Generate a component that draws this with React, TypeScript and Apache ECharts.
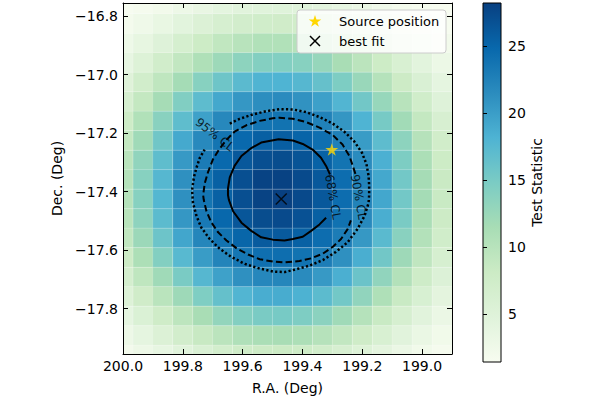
import React, { useEffect, useRef } from "react";
import * as echarts from "echarts";

// GnBu colour ramp used for the Test Statistic map
const GNBU = ["#f7fcf0", "#e0f3db", "#ccebc5", "#a8ddb5", "#7bccc4", "#4eb3d3", "#2b8cbe", "#0868ac", "#084081"];

// Pixel centres of the TS map (degrees)
const raCenters = [200.0, 199.933, 199.867, 199.8, 199.733, 199.667, 199.6, 199.533, 199.467, 199.4, 199.333, 199.267, 199.2, 199.133, 199.067, 199.0, 198.933];
const decCenters = [-16.758, -16.825, -16.892, -16.958, -17.025, -17.092, -17.158, -17.225, -17.292, -17.358, -17.425, -17.492, -17.558, -17.625, -17.692, -17.758, -17.825, -17.892, -17.958];
const cellDeg = 1 / 15;

// Test Statistic, one row per Dec centre (top to bottom), one column per R.A. centre
const tsGrid = [
  [1.4, 1.7, 2.2, 2.8, 3.5, 4.1, 4.6, 4.8, 4.9, 4.7, 4.3, 3.7, 3.1, 2.4, 1.9, 1.5, 1.4],
  [1.9, 2.5, 3.4, 4.4, 5.5, 6.4, 7.1, 7.4, 7.5, 7.3, 6.7, 5.9, 4.9, 3.8, 2.9, 2.1, 1.5],
  [2.7, 3.8, 5.1, 6.6, 7.9, 9.1, 10.0, 10.6, 10.6, 10.3, 9.5, 8.5, 7.2, 5.7, 4.3, 3.0, 2.2],
  [3.7, 5.3, 7.2, 9.0, 10.8, 12.3, 13.5, 14.2, 14.3, 13.9, 12.8, 11.4, 9.7, 7.9, 6.1, 4.4, 3.0],
  [5.0, 7.2, 9.3, 11.7, 13.9, 15.8, 17.2, 18.0, 18.1, 17.6, 16.4, 14.7, 12.6, 10.3, 8.0, 5.9, 4.0],
  [6.5, 8.9, 11.6, 14.4, 17.0, 19.1, 20.6, 21.4, 21.6, 21.0, 19.8, 17.9, 15.5, 12.7, 10.0, 7.4, 5.1],
  [7.8, 10.6, 13.8, 16.9, 19.7, 21.9, 23.2, 23.8, 23.9, 23.5, 22.5, 20.7, 18.1, 15.1, 11.9, 8.9, 6.3],
  [8.9, 12.1, 15.6, 19.0, 21.8, 23.7, 24.8, 25.6, 25.7, 25.2, 24.2, 22.7, 20.2, 17.0, 13.5, 10.2, 7.3],
  [9.8, 13.2, 16.9, 20.4, 23.1, 24.8, 26.2, 27.0, 27.2, 26.6, 25.4, 23.8, 21.6, 18.4, 14.7, 11.1, 7.9],
  [10.3, 13.9, 17.6, 21.2, 23.7, 25.5, 27.0, 28.0, 28.1, 27.4, 26.2, 24.4, 22.3, 19.1, 15.4, 11.6, 8.3],
  [10.3, 13.9, 17.7, 21.2, 23.7, 25.5, 27.0, 28.0, 28.25, 27.5, 26.2, 24.4, 22.4, 19.2, 15.4, 11.7, 8.4],
  [9.9, 13.4, 17.1, 20.6, 23.3, 24.9, 26.4, 27.2, 27.4, 26.8, 25.6, 24.0, 21.8, 18.6, 14.9, 11.2, 8.0],
  [9.1, 12.4, 15.9, 19.3, 22.1, 23.9, 25.1, 26.0, 26.1, 25.5, 24.4, 23.0, 20.5, 17.3, 13.8, 10.4, 7.4],
  [8.0, 11.0, 14.2, 17.4, 20.2, 22.3, 23.6, 24.2, 24.3, 23.9, 22.9, 21.2, 18.6, 15.5, 12.2, 9.2, 6.5],
  [6.8, 9.3, 12.1, 14.9, 17.6, 19.7, 21.2, 22.0, 22.1, 21.6, 20.4, 18.5, 16.0, 13.2, 10.4, 7.7, 5.4],
  [5.3, 7.5, 9.8, 12.2, 14.5, 16.5, 17.9, 18.7, 18.8, 18.3, 17.1, 15.4, 13.2, 10.8, 8.4, 6.2, 4.2],
  [4.0, 5.7, 7.6, 9.5, 11.4, 13.0, 14.2, 14.9, 15.1, 14.6, 13.6, 12.1, 10.3, 8.4, 6.5, 4.6, 3.1],
  [2.9, 4.0, 5.5, 7.1, 8.5, 9.7, 10.7, 11.2, 11.4, 11.0, 10.2, 9.0, 7.6, 6.1, 4.6, 3.3, 2.3],
  [2.0, 2.8, 3.7, 4.8, 5.9, 6.9, 7.6, 8.0, 8.1, 7.8, 7.2, 6.3, 5.3, 4.2, 3.1, 2.3, 1.7],
];

// Confidence-level contours, [R.A., Dec.]
const contour68 = [
  [199.308, -17.341], [199.316, -17.323], [199.321, -17.312], [199.338, -17.284], [199.366, -17.256],
  [199.399, -17.237], [199.432, -17.225], [199.48, -17.221], [199.538, -17.232], [199.571, -17.251],
  [199.604, -17.278], [199.627, -17.312], [199.643, -17.351], [199.649, -17.389], [199.649, -17.412],
  [199.646, -17.428], [199.632, -17.467], [199.604, -17.506], [199.571, -17.534], [199.538, -17.556],
  [199.499, -17.564], [199.46, -17.567], [199.432, -17.562], [199.399, -17.554], [199.371, -17.534],
  [199.343, -17.512], [199.321, -17.489],
];
const contour90 = [
  [199.223, -17.339], [199.23, -17.317], [199.243, -17.278], [199.266, -17.239], [199.299, -17.206],
  [199.343, -17.181], [199.388, -17.162], [199.432, -17.151], [199.477, -17.147], [199.499, -17.149],
  [199.543, -17.158], [199.588, -17.173], [199.627, -17.195], [199.654, -17.223], [199.679, -17.256],
  [199.699, -17.289], [199.716, -17.334], [199.727, -17.373], [199.732, -17.412], [199.73, -17.428],
  [199.721, -17.467], [199.704, -17.506], [199.682, -17.539], [199.654, -17.567], [199.621, -17.593],
  [199.582, -17.615], [199.543, -17.631], [199.499, -17.639], [199.46, -17.642], [199.41, -17.637],
  [199.371, -17.628], [199.332, -17.612], [199.299, -17.589], [199.271, -17.562], [199.249, -17.528],
  [199.238, -17.498],
];
const contour95 = [
  [199.643, -17.167], [199.61, -17.151], [199.566, -17.136], [199.521, -17.125], [199.477, -17.118],
  [199.432, -17.119], [199.388, -17.128], [199.343, -17.145], [199.299, -17.167], [199.26, -17.195],
  [199.227, -17.228], [199.201, -17.267], [199.186, -17.306], [199.179, -17.345], [199.177, -17.378],
  [199.177, -17.412], [199.179, -17.439], [199.193, -17.484], [199.216, -17.528], [199.249, -17.573],
  [199.288, -17.606], [199.332, -17.634], [199.377, -17.653], [199.427, -17.667], [199.46, -17.675],
  [199.499, -17.673], [199.543, -17.663], [199.593, -17.647], [199.638, -17.623], [199.677, -17.595],
  [199.71, -17.562], [199.738, -17.523], [199.754, -17.484], [199.766, -17.439], [199.769, -17.395],
  [199.763, -17.351], [199.754, -17.317], [199.743, -17.284], [199.727, -17.256],
];
const contourLabels = [
  { text: "68% CL", ra: 199.298, dec: -17.418, angle: -80 },
  { text: "90% CL", ra: 199.212, dec: -17.418, angle: -80 },
  { text: "95% CL", ra: 199.693, dec: -17.205, angle: -38 },
];

const sourcePosition = [199.302, -17.256];
const bestFit = [199.471, -17.425];

const raTicks = [199.0, 199.2, 199.4, 199.6, 199.8, 200.0];
const decTicks = [-17.8, -17.6, -17.4, -17.2, -17.0, -16.8];
const tsTicks = [5, 10, 15, 20, 25];

const FONT = "DejaVu Sans";
const STAR_PATH =
  "path://M0,-1L0.2245,-0.309L0.951,-0.309L0.363,0.118L0.588,0.809L0,0.382L-0.588,0.809L-0.363,0.118L-0.951,-0.309L-0.2245,-0.309Z";
const CROSS_PATH = "path://M0,0L1,1M1,0L0,1";

const fmtDeg = (v: number) => (v < 0 ? "\u2212" : "") + Math.abs(v).toFixed(1);

function starPoints(cx: number, cy: number, r: number) {
  const pts: number[][] = [];
  for (let k = 0; k < 10; k++) {
    const rr = k % 2 === 0 ? r : r * 0.382;
    const a = -Math.PI / 2 + (k * Math.PI) / 5;
    pts.push([cx + rr * Math.cos(a), cy + rr * Math.sin(a)]);
  }
  return pts;
}

export default function App() {
  const ref = useRef<HTMLDivElement>(null);

  useEffect(() => {
    document.body.style.margin = "0";
    if (!ref.current) return;
    const chart = echarts.init(ref.current, null, { renderer: "svg" });

    const heatData: number[][] = [];
    tsGrid.forEach((row, j) => row.forEach((v, i) => heatData.push([raCenters[i], decCenters[j], v])));
    const allTs = tsGrid.flat();
    const vmin = Math.min(...allTs);
    const vmax = Math.max(...allTs);
    const half = cellDeg / 2;

    const mainAxisCommon = {
      type: "value" as const,
      gridIndex: 0,
      z: 10,
      splitLine: { show: false },
      axisLine: { show: true, lineStyle: { color: "#000", width: 1 } },
    };

    const option: any = {
      animation: false,
      textStyle: { fontFamily: FONT },
      grid: [
        { left: 123, top: 3, width: 329, height: 359 },
        { left: 483, top: 3, width: 18, height: 359 },
      ],
      xAxis: [
        {
          ...mainAxisCommon,
          position: "bottom",
          min: 198.9,
          max: 200.0,
          inverse: true,
          name: "R.A. (Deg)",
          nameLocation: "middle",
          nameGap: 27,
          nameTextStyle: { fontSize: 14, color: "#000", fontFamily: FONT },
          axisTick: { inside: true, length: 5, customValues: raTicks, lineStyle: { color: "#000" } },
          axisLabel: { customValues: raTicks, formatter: fmtDeg, fontSize: 14, color: "#000", margin: 5, fontFamily: FONT },
        },
        {
          ...mainAxisCommon,
          position: "top",
          min: 198.9,
          max: 200.0,
          inverse: true,
          axisTick: { inside: true, length: 5, customValues: raTicks, lineStyle: { color: "#000" } },
          axisLabel: { show: false },
        },
        { type: "value", gridIndex: 1, min: 0, max: 1, show: false },
      ],
      yAxis: [
        {
          ...mainAxisCommon,
          position: "left",
          min: -17.955,
          max: -16.755,
          name: "Dec. (Deg)",
          nameLocation: "middle",
          nameGap: 47,
          nameTextStyle: { fontSize: 14, color: "#000", fontFamily: FONT },
          axisTick: { inside: true, length: 5, customValues: decTicks, lineStyle: { color: "#000" } },
          axisLabel: { customValues: decTicks, formatter: fmtDeg, fontSize: 14, color: "#000", margin: 5, fontFamily: FONT },
        },
        {
          ...mainAxisCommon,
          position: "right",
          min: -17.955,
          max: -16.755,
          axisTick: { inside: true, length: 5, customValues: decTicks, lineStyle: { color: "#000" } },
          axisLabel: { show: false },
        },
        {
          type: "value",
          gridIndex: 1,
          position: "right",
          min: vmin,
          max: vmax,
          z: 10,
          splitLine: { show: false },
          axisLine: { show: false },
          name: "Test Statistic",
          nameLocation: "middle",
          nameRotate: 90,
          nameGap: 28,
          nameTextStyle: { fontSize: 14, color: "#000", fontFamily: FONT },
          axisTick: { show: true, inside: false, length: 4, customValues: tsTicks, lineStyle: { color: "#000" } },
          axisLabel: { customValues: tsTicks, fontSize: 14, color: "#000", margin: 7, fontFamily: FONT },
        },
      ],
      visualMap: {
        type: "continuous",
        show: false,
        seriesIndex: 0,
        dimension: 2,
        min: vmin,
        max: vmax,
        inRange: { color: GNBU },
      },
      series: [
        {
          type: "custom",
          xAxisIndex: 0,
          yAxisIndex: 0,
          encode: { x: 0, y: 1 },
          data: heatData,
          renderItem: (params: any, api: any) => {
            const ra = api.value(0);
            const dec = api.value(1);
            const p1 = api.coord([ra + half, dec + half]);
            const p2 = api.coord([ra - half, dec - half]);
            const rect = echarts.graphic.clipRectByRect(
              {
                x: Math.min(p1[0], p2[0]),
                y: Math.min(p1[1], p2[1]),
                width: Math.abs(p2[0] - p1[0]),
                height: Math.abs(p2[1] - p1[1]),
              },
              {
                x: params.coordSys.x,
                y: params.coordSys.y,
                width: params.coordSys.width,
                height: params.coordSys.height,
              }
            );
            if (!rect) return null;
            return {
              type: "rect",
              shape: rect,
              style: { fill: api.visual("color"), stroke: "rgba(255,255,255,0.13)", lineWidth: 1 },
            };
          },
        },
        {
          type: "line",
          xAxisIndex: 0,
          yAxisIndex: 0,
          data: contour68,
          showSymbol: false,
          symbol: "none",
          lineStyle: { color: "#000", width: 2 },
          z: 3,
        },
        {
          type: "line",
          xAxisIndex: 0,
          yAxisIndex: 0,
          data: contour90,
          showSymbol: false,
          symbol: "none",
          lineStyle: { color: "#000", width: 2, type: [6.5, 3.2] },
          z: 3,
        },
        {
          type: "line",
          xAxisIndex: 0,
          yAxisIndex: 0,
          data: contour95,
          showSymbol: false,
          symbol: "none",
          lineStyle: { color: "#000", width: 2.5, type: [2.2, 2.3] },
          z: 3,
        },
        {
          type: "scatter",
          xAxisIndex: 0,
          yAxisIndex: 0,
          data: [sourcePosition],
          symbol: STAR_PATH,
          symbolSize: [13, 12.4],
          itemStyle: { color: "#FFD700" },
          z: 5,
        },
        {
          type: "scatter",
          xAxisIndex: 0,
          yAxisIndex: 0,
          data: [bestFit],
          symbol: CROSS_PATH,
          symbolSize: 11,
          itemStyle: { color: "transparent", borderColor: "#000", borderWidth: 1.5 },
          z: 5,
        },
        {
          type: "scatter",
          xAxisIndex: 0,
          yAxisIndex: 0,
          symbolSize: 0,
          data: contourLabels.map((l) => ({
            value: [l.ra, l.dec],
            label: { formatter: l.text, rotate: l.angle },
          })),
          label: {
            show: true,
            position: "inside",
            fontSize: 12,
            color: "#000",
            fontFamily: FONT,
          },
          z: 6,
        },
        {
          type: "custom",
          xAxisIndex: 2,
          yAxisIndex: 2,
          data: [[0.5, (vmin + vmax) / 2]],
          renderItem: (_params: any, api: any) => {
            const top = api.coord([0, vmax]);
            const bottom = api.coord([1, vmin]);
            return {
              type: "rect",
              shape: { x: top[0], y: top[1], width: bottom[0] - top[0], height: bottom[1] - top[1] },
              style: {
                fill: new echarts.graphic.LinearGradient(
                  0,
                  0,
                  0,
                  1,
                  GNBU.slice()
                    .reverse()
                    .map((c, k) => ({ offset: k / (GNBU.length - 1), color: c }))
                ),
                stroke: "#000",
                lineWidth: 1,
              },
            };
          },
        },
      ],
      graphic: [
        {
          type: "rect",
          z: 100,
          shape: { x: 297, y: 10, width: 149, height: 43, r: 3 },
          style: { fill: "rgba(255,255,255,0.8)", stroke: "#cccccc", lineWidth: 1 },
        },
        {
          type: "polygon",
          z: 101,
          shape: { points: starPoints(315, 21.5, 6.6) },
          style: { fill: "#FFD700" },
        },
        {
          type: "line",
          z: 101,
          shape: { x1: 310, y1: 36, x2: 320, y2: 46 },
          style: { stroke: "#000", lineWidth: 1.5 },
        },
        {
          type: "line",
          z: 101,
          shape: { x1: 320, y1: 36, x2: 310, y2: 46 },
          style: { stroke: "#000", lineWidth: 1.5 },
        },
        {
          type: "text",
          z: 101,
          x: 339,
          y: 21.5,
          style: { text: "Source position", fill: "#000", fontSize: 13, fontFamily: FONT, verticalAlign: "middle" },
        },
        {
          type: "text",
          z: 101,
          x: 339,
          y: 41,
          style: { text: "best fit", fill: "#000", fontSize: 13, fontFamily: FONT, verticalAlign: "middle" },
        },
      ],
    };

    chart.setOption(option);
    return () => chart.dispose();
  }, []);

  return <div ref={ref} style={{ width: 600, height: 400 }} />;
}
